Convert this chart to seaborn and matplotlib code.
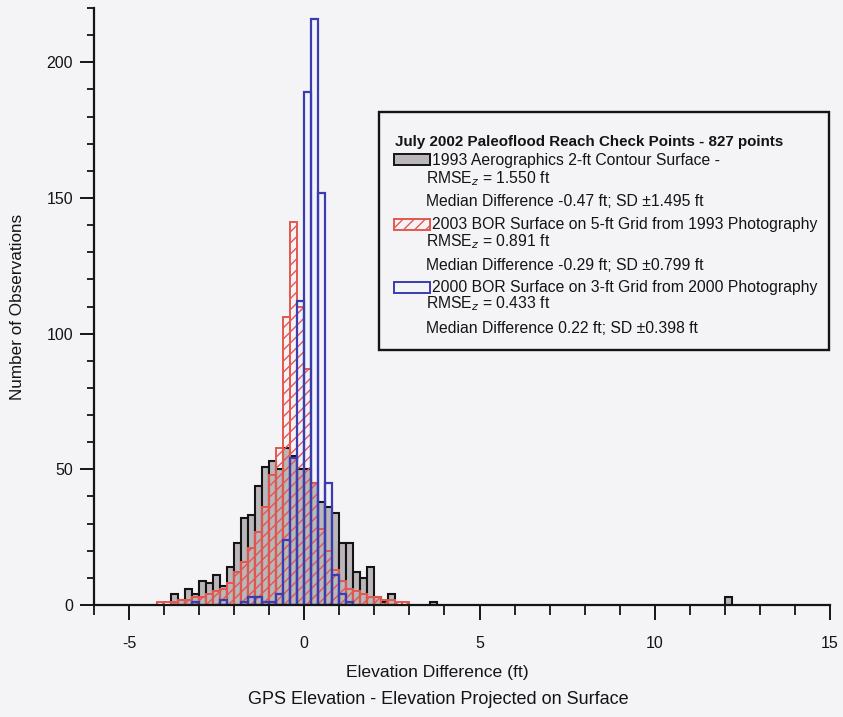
import numpy as np
import pandas as pd
import matplotlib
matplotlib.use("Agg")
import matplotlib.pyplot as plt
import seaborn as sns
from matplotlib.patches import Rectangle
from matplotlib.ticker import MultipleLocator

# Check-point elevation differences, counts per 0.2-ft bin (bin left edge, count)
aero1993_left = [-3.8, -3.6, -3.4, -3.2, -3.0, -2.8, -2.6, -2.4, -2.2, -2.0,
                 -1.8, -1.6, -1.4, -1.2, -1.0, -0.8, -0.6, -0.4, -0.2, 0.0,
                 0.2, 0.4, 0.6, 0.8, 1.0, 1.2, 1.4, 1.6, 1.8, 2.0,
                 2.2, 2.4, 3.6, 12.0]
aero1993_count = [4, 2, 6, 4, 9, 8, 11, 7, 14, 23,
                  32, 33, 44, 51, 53, 50, 58, 55, 50, 50,
                  45, 38, 36, 34, 23, 23, 12, 10, 14, 3,
                  1, 4, 1, 3]

bor2003_left = [-4.2, -4.0, -3.8, -3.6, -3.4, -3.2, -3.0, -2.8, -2.6, -2.4,
                -2.2, -2.0, -1.8, -1.6, -1.4, -1.2, -1.0, -0.8, -0.6, -0.4,
                -0.2, 0.0, 0.2, 0.4, 0.6, 0.8, 1.0, 1.2, 1.4, 1.6,
                1.8, 2.0, 2.2, 2.4, 2.6, 2.8]
bor2003_count = [1, 1, 1, 2, 2, 3, 3, 4, 5, 6,
                 8, 12, 16, 21, 27, 36, 48, 58, 106, 141,
                 110, 87, 45, 28, 20, 13, 9, 6, 5, 4,
                 3, 3, 2, 2, 1, 1]

bor2000_left = [-3.2, -2.4, -1.8, -1.6, -1.4, -1.2, -1.0, -0.8, -0.6, -0.4,
                -0.2, 0.0, 0.2, 0.4, 0.6, 0.8, 1.0, 1.2]
bor2000_count = [1, 2, 1, 3, 3, 1, 1, 4, 24, 54,
                 112, 189, 216, 152, 45, 11, 4, 1]

x_ticks = [-5, 0, 5, 10, 15]
y_ticks = [0, 50, 100, 150, 200]

legend_title = "July 2002 Paleoflood Reach Check Points - 827 points"
legend_entries = [
    ("1993 Aerographics 2-ft Contour Surface -", "1.550",
     "Median Difference -0.47 ft; SD \u00b11.495 ft"),
    ("2003 BOR Surface on 5-ft Grid from 1993 Photography", "0.891",
     "Median Difference -0.29 ft; SD \u00b10.799 ft"),
    ("2000 BOR Surface on 3-ft Grid from 2000 Photography", "0.433",
     "Median Difference 0.22 ft; SD \u00b10.398 ft"),
]

BG = "#f4f4f7"
GRAY = "#bbb6ba"
RED = "#e4574f"
BLUE = "#3a3cb2"
INK = "#141414"

sns.set_theme(style="ticks")
plt.rcParams["font.family"] = ["Liberation Sans", "DejaVu Sans"]
plt.rcParams["axes.unicode_minus"] = False
plt.rcParams["hatch.linewidth"] = 1.0

W, H = 843, 717
fig = plt.figure(figsize=(W / 100, H / 100), dpi=100, facecolor=BG)
ax = fig.add_axes([94 / W, 1 - 605 / H, (830 - 94) / W, (605 - 8) / H])
ax.set_facecolor(BG)


def draw_series(left, count, face, edge, hatch=None, lw=1.4):
    before = len(ax.patches)
    df = pd.DataFrame({"center": np.asarray(left, dtype=float) + 0.1,
                       "count": np.asarray(count, dtype=float)})
    sns.histplot(data=df, x="center", weights="count", binwidth=0.2,
                 binrange=(-6.0, 15.0), ax=ax, stat="count", element="bars",
                 fill=True, color=GRAY if face == "none" else face, alpha=1,
                 linewidth=lw)
    for p in ax.patches[before:]:
        if p.get_height() <= 0:
            p.set_visible(False)
            continue
        p.set_edgecolor(edge)
        p.set_linewidth(lw)
        p.set_facecolor(face)
        if hatch:
            p.set_hatch(hatch)


draw_series(aero1993_left, aero1993_count, GRAY, INK, lw=1.5)
draw_series(bor2003_left, bor2003_count, "none", RED, hatch="///")
draw_series(bor2000_left, bor2000_count, "none", BLUE, lw=1.6)

ax.set_xlim(-6, 15)
ax.set_ylim(0, 220)
ax.set_xticks(x_ticks)
ax.set_yticks(y_ticks)
ax.xaxis.set_minor_locator(MultipleLocator(1))
ax.yaxis.set_minor_locator(MultipleLocator(10))
ax.tick_params(axis="x", which="major", direction="out", length=11, width=1.4,
               labelsize=11.5, colors=INK, pad=11)
ax.tick_params(axis="x", which="minor", direction="out", length=7, width=1.3,
               colors=INK)
ax.tick_params(axis="y", which="major", direction="out", length=10, width=1.4,
               labelsize=11.5, colors=INK, pad=5)
ax.tick_params(axis="y", which="minor", direction="out", length=5, width=1.3,
               colors=INK)
for side in ("top", "right"):
    ax.spines[side].set_visible(False)
for side in ("left", "bottom"):
    ax.spines[side].set_linewidth(1.6)
    ax.spines[side].set_color(INK)

ax.set_xlabel("")
ax.set_ylabel("")
fig.text(18 / W, 1 - 307 / H, "Number of Observations", rotation=90,
         ha="center", va="center", fontsize=12.3, color=INK)
fig.text(437 / W, 1 - 672 / H, "Elevation Difference (ft)",
         ha="center", va="center", fontsize=12.6, color=INK)
fig.text(438 / W, 1 - 699 / H, "GPS Elevation - Elevation Projected on Surface",
         ha="center", va="center", fontsize=13.0, color=INK)

# legend box
fig.patches.append(Rectangle((379 / W, 1 - 350 / H), (829 - 379) / W, (350 - 112) / H,
                             transform=fig.transFigure, facecolor=BG,
                             edgecolor=INK, linewidth=1.7, zorder=5))
fig.text(395 / W, 1 - 142 / H, legend_title, ha="left", va="center",
         fontsize=10.9, fontweight="bold", color=INK, zorder=6)

styles = [(GRAY, INK, None), ("none", RED, "///"), ("none", BLUE, None)]
rows = [(160, 179, 202), (225, 242, 266), (288, 304, 329)]
for (first, rmse, median), (face, edge, hatch), (y1, y2, y3) in zip(legend_entries, styles, rows):
    fig.patches.append(Rectangle((394 / W, 1 - (y1 + 5) / H), 36 / W, 11 / H,
                                 transform=fig.transFigure, facecolor=face,
                                 edgecolor=edge, hatch=hatch, linewidth=1.4, zorder=6))
    fig.text(432 / W, 1 - y1 / H, first, ha="left", va="center", fontsize=11.3,
             color=INK, zorder=6)
    fig.text(426 / W, 1 - y2 / H, "RMSE$_z$ = " + rmse + " ft", ha="left", va="center",
             fontsize=11.3, color=INK, zorder=6)
    fig.text(426 / W, 1 - y3 / H, median, ha="left", va="center", fontsize=11.3,
             color=INK, zorder=6)

fig.savefig("out.png", dpi=100, facecolor=BG)
